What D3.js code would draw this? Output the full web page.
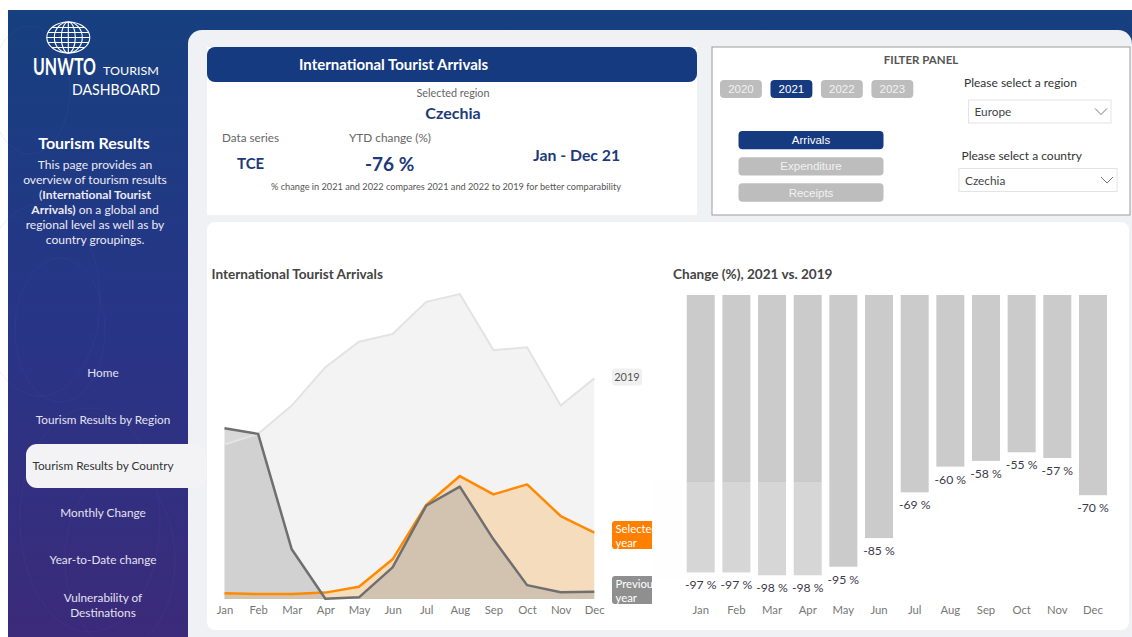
<!DOCTYPE html>
<html lang="en">
<head>
<meta charset="UTF-8">
<title>UNWTO Tourism Dashboard • Czechia</title>
<style>
  body{margin:0;background:#fff;font-family:Lato,'Open Sans',sans-serif}
  svg{display:block}
  text{font-family:Lato,'Open Sans',sans-serif}
  .btn text{font-family:'Liberation Sans',Arial,sans-serif}
</style>
</head>
<body>
<div id="chart"></div>
<script src="https://cdn.jsdelivr.net/npm/d3@7"></script>
<script>
/* datos */
const months=["Jan","Feb","Mar","Apr","May","Jun","Jul","Aug","Sep","Oct","Nov","Dec"];
const arrivals2019=[557,595,697,835,927,955,1071,1099,897,907,697,795];   // miles
const arrivalsPrev=[615,595,179,1,6,114,336,405,215,50,24,26];           // 2020
const arrivalsSel =[21,18,18,23,44,143,339,443,377,413,299,239];          // 2021
const change2021  =[-97,-97,-98,-98,-95,-85,-69,-60,-58,-55,-57,-70];
const years=["2020","2021","2022","2023"], selYear="2021";
const seriesBtns=["Arrivals","Expenditure","Receipts"], selSeries="Arrivals";
const navItems=[["Home"],["Tourism Results by Region"],["Tourism Results by Country"],
                ["Monthly Change"],["Year-to-Date change"],["Vulnerability of","Destinations"]];
const navY=[373,420,466,513,560,598];

const W=1132,H=637, navy="#163a80", txtBlue="#1d3a7a";

const svg=d3.select("#chart").append("svg").attr("width",W).attr("height",H);
const defs=svg.append("defs");

const grad=defs.append("linearGradient").attr("id","bg").attr("x1",0).attr("y1",0).attr("x2",0).attr("y2",1);
grad.append("stop").attr("offset","0%").attr("stop-color","#16407f");
grad.append("stop").attr("offset","50%").attr("stop-color","#283587");
grad.append("stop").attr("offset","100%").attr("stop-color","#3c2a79");

const shadow=defs.append("filter").attr("id","sh").attr("x","-20%").attr("y","-20%").attr("width","140%").attr("height","140%");
shadow.append("feDropShadow").attr("dx",0).attr("dy",0).attr("stdDeviation",2).attr("flood-color","#000").attr("flood-opacity",0.05);

/* fondo azul + panel */
svg.append("rect").attr("x",8).attr("y",10).attr("width",W-8).attr("height",H).attr("fill","url(#bg)");
// contornos tenues
const contour=svg.append("g").attr("fill","none").attr("stroke","#6a63c8").attr("stroke-opacity",0.1);
[[40,300,60],[60,330,45],[90,520,70],[120,560,55],[30,90,40]].forEach(([cx,cy,r])=>
  contour.append("ellipse").attr("cx",cx).attr("cy",cy).attr("rx",r).attr("ry",r*1.6));
svg.append("rect").attr("x",188).attr("y",30).attr("width",W-188).attr("height",H).attr("rx",14).attr("fill","#f0f1f5");

/* logo */
const logo=svg.append("g").attr("fill","none").attr("stroke","#fff").attr("stroke-width",1.1);
const gx=68.3, gy=37.5, rx=21.5, ry=15.5;
logo.append("ellipse").attr("cx",gx).attr("cy",gy).attr("rx",rx).attr("ry",ry);
[14,7].forEach(r=>logo.append("ellipse").attr("cx",gx).attr("cy",gy).attr("rx",r).attr("ry",ry));
logo.append("line").attr("x1",gx).attr("x2",gx).attr("y1",gy-ry).attr("y2",gy+ry);
[-10,-5,0,5,10].forEach(o=>{
  const half=rx*Math.sqrt(1-(o*o)/(ry*ry));
  logo.append("line").attr("x1",gx-half).attr("x2",gx+half).attr("y1",gy+o).attr("y2",gy+o);
});
// texto del logo escalado horizontalmente al ancho medido
function fitText(s,x0,y0,size,weight,wTarget){
  const t=svg.append("text").attr("x",0).attr("y",0).attr("fill","#fff")
     .attr("font-size",size).attr("font-weight",weight).text(s);
  const w=t.node().getComputedTextLength();
  t.attr("transform",`translate(${x0},${y0}) scale(${wTarget/w},1)`);
}
fitText("UNWTO",33,74.5,23,700,63);
fitText("TOURISM",103,75,11,400,56);
fitText("DASHBOARD",72,94.5,15,400,88);

/* texto lateral */
svg.append("text").attr("x",94).attr("y",148.5).attr("text-anchor","middle").attr("fill","#fff")
   .attr("font-weight",700).attr("font-size",16).text("Tourism Results");
const para=[[["This page provides an",400]],[["overview of tourism results",400]],
            [["(",400],["International Tourist",700]],[["Arrivals)",700],[" on a global and",400]],
            [["regional level as well as by",400]],[["country groupings.",400]]];
para.forEach((ln,i)=>{
  const t=svg.append("text").attr("x",95).attr("y",169+i*15).attr("text-anchor","middle")
     .attr("fill","#eceaf6").attr("font-size",12.1);
  ln.forEach(([s,w])=>t.append("tspan").attr("font-weight",w).text(s));
});

/* navegación */
svg.append("rect").attr("x",26).attr("y",444).attr("width",180).attr("height",44).attr("rx",11).attr("fill","#f3f3f6");
navItems.forEach((lines,i)=>{
  const sel=i===2;
  lines.forEach((s,j)=>svg.append("text").attr("x",103).attr("y",navY[i]+4+j*15)
     .attr("text-anchor","middle").attr("font-size",11.8)
     .attr("fill",sel?"#333":"#e4e2f2").text(s));
});

/* tarjeta KPI */
const kpi=svg.append("g");
kpi.append("rect").attr("x",207).attr("y",47).attr("width",490).attr("height",168).attr("fill","#fff");
kpi.append("rect").attr("x",207).attr("y",47).attr("width",490).attr("height",35).attr("rx",8).attr("fill",navy);
kpi.append("text").attr("x",299).attr("y",70).attr("fill","#fff").attr("font-weight",700).attr("font-size",15)
   .text("International Tourist Arrivals");
kpi.append("text").attr("x",453).attr("y",97).attr("text-anchor","middle").attr("fill","#666").attr("font-size",10.8).text("Selected region");
kpi.append("text").attr("x",453).attr("y",119).attr("text-anchor","middle").attr("fill",txtBlue).attr("font-weight",700).attr("font-size",16).text("Czechia");
kpi.append("text").attr("x",222).attr("y",142).attr("fill","#666").attr("font-size",11.7).text("Data series");
kpi.append("text").attr("x",349).attr("y",142).attr("fill","#666").attr("font-size",11.8).text("YTD change (%)");
kpi.append("text").attr("x",237).attr("y",168.5).attr("fill",txtBlue).attr("font-weight",700).attr("font-size",15).text("TCE");
kpi.append("text").attr("x",365).attr("y",170.5).attr("fill",txtBlue).attr("font-weight",700).attr("font-size",19).text("-76 %");
kpi.append("text").attr("x",533).attr("y",160.5).attr("fill",txtBlue).attr("font-weight",700).attr("font-size",15.8).text("Jan - Dec 21");
kpi.append("text").attr("x",271).attr("y",190).attr("fill","#555").attr("font-size",9.2)
   .text("% change in 2021 and 2022 compares 2021 and 2022  to 2019 for better comparability");

/* panel de filtros */
const fp=svg.append("g");
fp.append("rect").attr("x",712).attr("y",47).attr("width",418).attr("height",168).attr("fill","#fff").attr("stroke","#9b9b9b");
fp.append("text").attr("x",921).attr("y",64).attr("text-anchor","middle").attr("fill","#555").attr("font-weight",700).attr("font-size",11.5).text("FILTER PANEL");

const yb=d3.scaleBand().domain(years).range([720,913.3]).paddingInner(0.17);
const yg=fp.selectAll("g.yr").data(years).join("g").attr("class","btn");
yg.append("rect").attr("x",d=>yb(d)).attr("y",80).attr("width",yb.bandwidth()).attr("height",18).attr("rx",4)
  .attr("fill",d=>d===selYear?navy:"#bdbdbd");
yg.append("text").attr("x",d=>yb(d)+yb.bandwidth()/2).attr("y",93).attr("text-anchor","middle")
  .attr("font-size",11.5).attr("fill",d=>d===selYear?"#fff":"#f2f2f2").text(d=>d);

const sb=d3.scaleBand().domain(seriesBtns).range([131,201.7]).paddingInner(0.3);
const sg=fp.selectAll("g.sr").data(seriesBtns).join("g").attr("class","btn");
sg.append("rect").attr("x",738.5).attr("y",d=>sb(d)).attr("width",145).attr("height",sb.bandwidth()).attr("rx",4)
  .attr("fill",d=>d===selSeries?navy:"#bdbdbd");
sg.append("text").attr("x",811).attr("y",d=>sb(d)+sb.bandwidth()/2+4).attr("text-anchor","middle")
  .attr("font-size",11.5).attr("fill",d=>d===selSeries?"#fff":"#f2f2f2").text(d=>d);

function dropdown(lbl,lx,ly,bx,by,bw,val){
  fp.append("text").attr("x",lx).attr("y",ly).attr("fill","#333").attr("font-size",12).text(lbl);
  fp.append("rect").attr("x",bx).attr("y",by).attr("width",bw).attr("height",23).attr("fill","#fff").attr("stroke","#e3e3e3");
  fp.append("text").attr("x",bx+6).attr("y",by+16).attr("fill","#444").attr("font-size",11.8).text(val);
  const cx=bx+bw-10, cy=by+11.5;
  fp.append("path").attr("d",`M${cx-6},${cy-3}L${cx},${cy+3}L${cx+6},${cy-3}`).attr("fill","none").attr("stroke","#777").attr("stroke-width",1);
}
dropdown("Please select a region",964,87,968.5,100,142.5,"Europe");
dropdown("Please select a country",961.5,160,959,168.5,158,"Czechia");

/* tarjeta de gráficos */
svg.append("rect").attr("x",207).attr("y",222).attr("width",922).attr("height",408).attr("rx",8).attr("fill","#fff");

/* ---- gráfico de áreas ---- */
const ax=svg.append("g");
ax.append("text").attr("x",211.5).attr("y",279).attr("fill","#444").attr("font-weight",700).attr("font-size",13.6)
  .text("International Tourist Arrivals");

const x=d3.scalePoint().domain(months).range([224.5,594.3]);
const y=d3.scaleLinear().domain([0,1200]).range([599,266]);
const area=vals=>d3.area().x((d,i)=>x(months[i])).y0(y(0)).y1(d=>y(d))(vals);
const line=vals=>d3.line().x((d,i)=>x(months[i])).y(d=>y(d))(vals);

ax.append("path").attr("d",area(arrivals2019)).attr("fill","#f3f3f3");
ax.append("path").attr("d",area(arrivalsSel)).attr("fill","#ff8c00").attr("fill-opacity",0.22);
ax.append("path").attr("d",area(arrivalsPrev)).attr("fill","#9e9e9e").attr("fill-opacity",0.4);
ax.append("path").attr("d",line(arrivals2019)).attr("fill","none").attr("stroke","#e3e3e3").attr("stroke-width",2);
ax.append("path").attr("d",line(arrivalsSel)).attr("fill","none").attr("stroke","#ff8a00").attr("stroke-width",2.5).attr("stroke-linejoin","round");
ax.append("path").attr("d",line(arrivalsPrev)).attr("fill","none").attr("stroke","#6f6f6f").attr("stroke-width",2.5).attr("stroke-linejoin","round");

ax.append("g").attr("transform",`translate(0,${y(0)})`)
  .call(d3.axisBottom(x).tickSize(0).tickPadding(7))
  .call(g=>g.select(".domain").remove())
  .selectAll("text").attr("fill","#777").attr("font-size",11.3).style("font-family","Lato,'Open Sans',sans-serif");

// etiquetas de serie (recortadas como en el original)
defs.append("clipPath").attr("id","lblclip").append("rect").attr("x",600).attr("y",300).attr("width",52).attr("height",320);
const lg=ax.append("g").attr("clip-path","url(#lblclip)");
lg.append("rect").attr("x",612).attr("y",368.5).attr("width",30).attr("height",17).attr("rx",3).attr("fill","#f0f0f0");
lg.append("text").attr("x",627).attr("y",381).attr("text-anchor","middle").attr("fill","#555").attr("font-size",11).text("2019");
[["Selected","#ff8000",521],["Previous","#8f8f8f",576]].forEach(([s,c,t])=>{
  lg.append("rect").attr("x",612).attr("y",t).attr("width",60).attr("height",28).attr("rx",3).attr("fill",c);
  lg.append("text").attr("x",615.5).attr("y",t+12).attr("fill","#fff").attr("font-size",11.3).text(s);
  lg.append("text").attr("x",615.5).attr("y",t+25.5).attr("fill","#fff").attr("font-size",11.3).text("year");
});

/* ---- gráfico de barras ---- */
const bx=svg.append("g");
bx.append("text").attr("x",673).attr("y",279).attr("fill","#444").attr("font-weight",700).attr("font-size",13.6)
  .text("Change (%), 2021 vs. 2019");
const xb=d3.scaleBand().domain(months).range([682.9,1110.8]).paddingInner(0.215).paddingOuter(0.1075);
const yb2=d3.scaleLinear().domain([0,-100]).range([295,581]);
bx.selectAll("rect.bar").data(change2021).join("rect").attr("class","bar")
  .attr("x",(d,i)=>xb(months[i])).attr("y",yb2(0)).attr("width",xb.bandwidth())
  .attr("height",d=>yb2(d)-yb2(0)).attr("fill","#cbcbcb");
bx.selectAll("text.val").data(change2021).join("text").attr("class","val")
  .attr("x",(d,i)=>xb(months[i])+xb.bandwidth()/2).attr("y",d=>yb2(d)+17)
  .attr("text-anchor","middle").attr("fill","#3a3a4a").attr("font-size",12.2).text(d=>`${d} %`);
bx.append("g").attr("transform","translate(0,599)")
  .call(d3.axisBottom(xb).tickSize(0).tickPadding(7))
  .call(g=>g.select(".domain").remove())
  .selectAll("text").attr("fill","#777").attr("font-size",11.3).style("font-family","Lato,'Open Sans',sans-serif");

// recuadro semitransparente superpuesto (como en la captura)
svg.append("rect").attr("x",655).attr("y",482).attr("width",172).attr("height",95)
   .attr("fill","#fff").attr("fill-opacity",0.22).attr("filter","url(#sh)");
</script>
</body>
</html>
